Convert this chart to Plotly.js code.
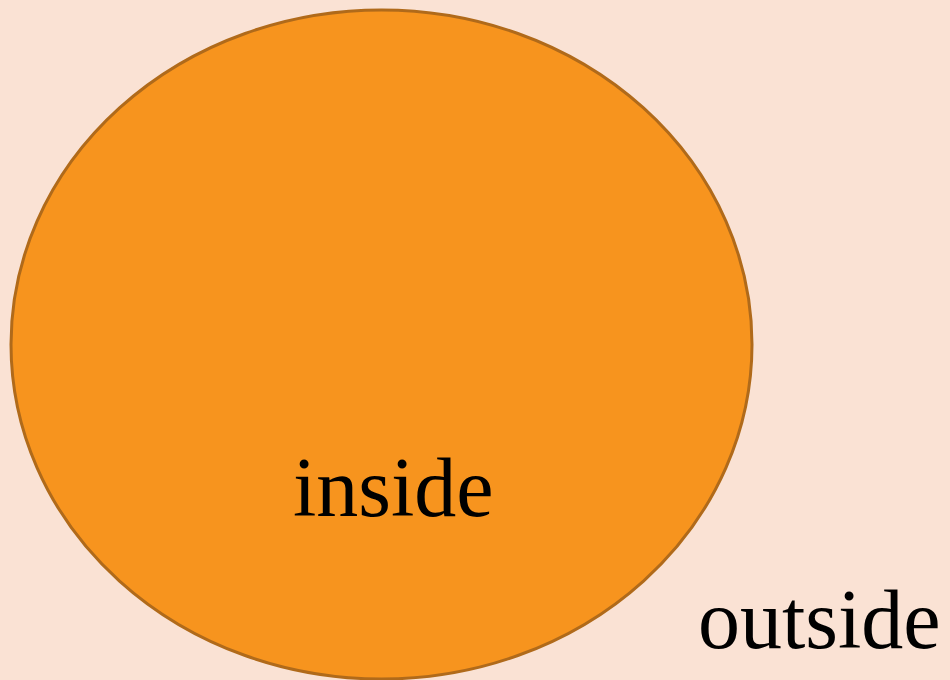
<!DOCTYPE html>
<html>
<head>
<meta charset="utf-8">
<script src="https://cdn.plot.ly/plotly-3.0.1.min.js"></script>
<style>html,body{margin:0;padding:0;background:#fae2d4;}#chart{width:950px;height:680px;}</style>
</head>
<body>
<div id="chart"></div>
<script>
// Ellipse bounds (data units)
const ellipseX = [11, 752];
const ellipseY = [10, 679];
// Labels
const labelTexts = ["inside", "outside"];
const labelX = [393, 819];
const labelY = [487, 619];

const layout = {
  width: 950, height: 680,
  margin: {l: 0, r: 0, t: 0, b: 0},
  paper_bgcolor: '#fae2d4',
  plot_bgcolor: '#fae2d4',
  showlegend: false,
  xaxis: {range: [0, 950], visible: false, fixedrange: true},
  yaxis: {range: [680, 0], visible: false, fixedrange: true},
  shapes: [{
    type: 'circle', xref: 'x', yref: 'y',
    x0: ellipseX[0], x1: ellipseX[1], y0: ellipseY[0], y1: ellipseY[1],
    fillcolor: '#f7941e',
    line: {color: '#b06a1a', width: 3},
    layer: 'below'
  }],
  annotations: labelTexts.map((t, i) => ({
    x: labelX[i], y: labelY[i], xref: 'x', yref: 'y',
    text: t, showarrow: false, xanchor: 'center', yanchor: 'middle',
    font: {family: 'Liberation Serif, Times New Roman, serif', size: 84, color: '#000000'}
  }))
};

Plotly.newPlot('chart', [], layout, {displayModeBar: false, staticPlot: true});
</script>
</body>
</html>
